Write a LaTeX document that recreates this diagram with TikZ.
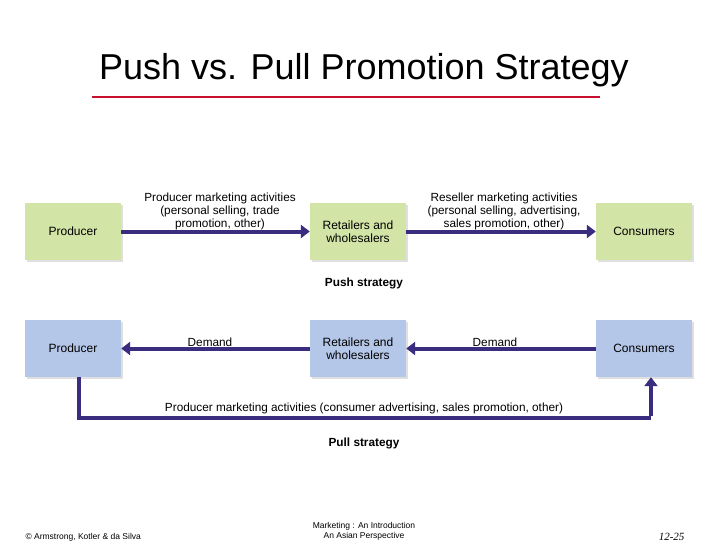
\documentclass[tikz,border=0pt]{standalone}
\usepackage{fontspec}
\setmainfont{Liberation Sans}
\newfontfamily\serfont{Liberation Serif}
\usetikzlibrary{arrows.meta,shadows}
\definecolor{gbox}{HTML}{D2E4A6}
\definecolor{bbox}{HTML}{B5C7E8}
\definecolor{navy}{HTML}{3A2C7E}
\definecolor{redl}{HTML}{C8102E}
\begin{document}
\begin{tikzpicture}[x=1pt,y=-1pt,
  boxs/.style={minimum width=96pt,minimum height=57pt,inner sep=0pt,align=center,font=\fontsize{12}{13.5}\selectfont,drop shadow={shadow xshift=2pt,shadow yshift=-2pt,opacity=0.25}},
  gb/.style={boxs,fill=gbox},
  bb/.style={boxs,fill=bbox},
  arr/.style={navy,line width=4pt,-{Triangle[length=9pt,width=13pt]}},
  lbl/.style={font=\fontsize{11.8}{13}\selectfont,align=center},
  foot/.style={font=\fontsize{8.5}{10}\selectfont,align=center}]
\useasboundingbox (0,0) rectangle (728,546);
\fill[white] (0,0) rectangle (728,546);
\node[font=\fontsize{36}{40}\selectfont] (title) at (364,70) {Push vs. Pull Promotion Strategy};
\draw[redl,line width=1.5pt] (92,97) -- (600,97);
% push
\node[gb] (p1) at (73,231.5) {Producer};
\node[gb] (r1) at (358,231.5) {Retailers and\\wholesalers};
\node[gb] (c1) at (644,231.5) {Consumers};
\draw[arr] (p1.east) -- (r1.west);
\draw[arr] (r1.east) -- (c1.west);
\node[lbl] (l1) at (220,211) {Producer marketing activities\\(personal selling, trade\\promotion, other)};
\node[lbl] (l2) at (504,211) {Reseller marketing activities\\(personal selling, advertising,\\sales promotion, other)};
\node[lbl,font=\bfseries\fontsize{11.8}{13}\selectfont] (push) at (364,283) {Push strategy};
% pull
\node[bb] (p2) at (73,348.5) {Producer};
\node[bb] (r2) at (358,348.5) {Retailers and\\wholesalers};
\node[bb] (c2) at (644,348.5) {Consumers};
\draw[arr] (r2.west) -- (p2.east);
\draw[arr] (c2.west) -- (r2.east);
\node[lbl] (d1) at (210,342) {Demand};
\node[lbl] (d2) at (495,342) {Demand};
\coordinate (pb) at (79,418);
\coordinate (cb) at (651,418);
\draw[navy,line width=4pt] (p2.south -| pb) -- (pb) -- (cb);
\draw[arr] ([yshift=2pt]cb) -- (c2.south -| cb);
\node[lbl] (l3) at (364,408) {Producer marketing activities (consumer advertising, sales promotion, other)};
\node[lbl,font=\bfseries\fontsize{11.8}{13}\selectfont] (pull) at (364,443) {Pull strategy};
% footer
\node[foot,anchor=west] (f1) at (22,537) {© Armstrong, Kotler \& da Silva};
\node[foot] (f2) at (364,531) {Marketing : An Introduction\\An Asian Perspective};
\node[anchor=east,font=\serfont\itshape\fontsize{11}{12}\selectfont] (f3) at (688,537) {12-25};
\end{tikzpicture}
\end{document}
